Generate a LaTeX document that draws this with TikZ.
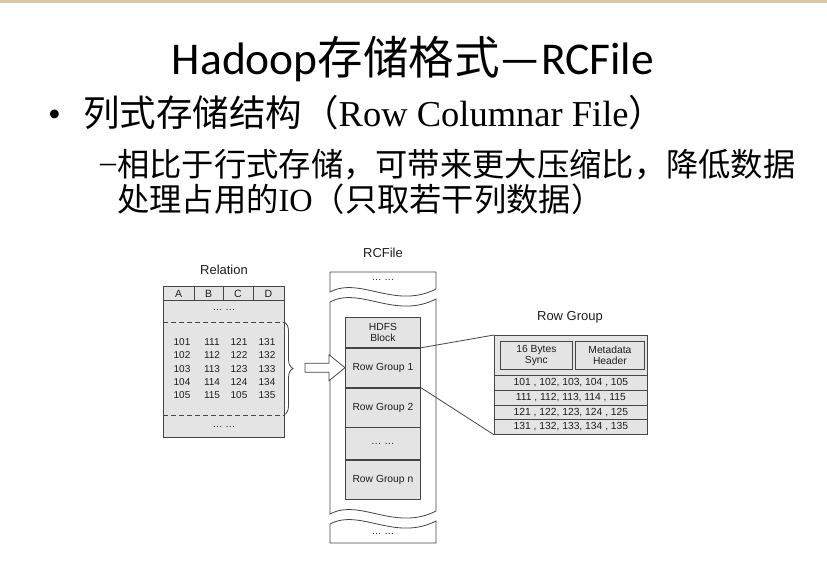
\documentclass[tikz,border=0pt]{standalone}
\usepackage{fontspec}
\setmainfont{Liberation Serif}
\setsansfont{Liberation Sans}
\newfontfamily\cjk{Noto Sans CJK SC}
\newfontfamily\calibri{Carlito}
\usetikzlibrary{positioning,decorations.pathreplacing,calc}
\definecolor{frame}{HTML}{454545}
\definecolor{cellgray}{HTML}{E4E4E4}
\definecolor{strip}{HTML}{D9C9A3}
\definecolor{ink}{HTML}{1E1E1E}

\begin{document}
\begin{tikzpicture}[x=1pt,y=-1pt,font=\sffamily\fontsize{10.3}{11.5}\selectfont,
  cell/.style={draw=frame,fill=cellgray,inner sep=0pt,align=center,line width=0.8pt,text=ink},
  blocktitle/.style={font=\sffamily\fontsize{13}{15}\selectfont,text=ink},
  num/.style={font=\sffamily\fontsize{10}{10}\selectfont,inner sep=0pt,text=ink}]
  \useasboundingbox (0,0) rectangle (827,584);
  \fill[white] (0,0) rectangle (827,584);
  \fill[strip] (0,0) rectangle (827,2.5);
  % heading and bullet lines
  \node[anchor=base,inner sep=0pt,font=\calibri\fontsize{45.5}{54}\selectfont] (title) at (413,74) {Hadoop{\cjk 存储格式}—RCFile};
  \node[anchor=base west,inner sep=0pt,font=\fontsize{36.5}{40}\selectfont] (dot1) at (48,126) {•};
  \node[anchor=base west,inner sep=0pt,font=\fontsize{36.5}{40}\selectfont] (line1) at (83,126) {{\cjk 列式存储结构（}Row Columnar File{\cjk ）}};
  \node[anchor=base west,inner sep=0pt,font=\fontsize{32}{36}\selectfont] (dash1) at (100,172) {–};
  \node[anchor=base west,inner sep=0pt,font=\fontsize{32.3}{36}\selectfont] (line2) at (117,176) {\cjk 相比于行式存储，可带来更大压缩比，降低数据};
  \node[anchor=base west,inner sep=0pt,font=\fontsize{32.3}{36}\selectfont] (line3) at (117,211) {{\cjk 处理占用的}IO{\cjk （只取若干列数据）}};

  % relation table
  \node[blocktitle] (reltitle) at (224,270) {Relation};
  \node[cell,minimum width=121,minimum height=151,anchor=north west] (rel) at (163,286) {};
  \draw[frame,line width=0.8pt] (163,300) -- (284,300);
  \foreach \x in {194,223,253} \draw[frame,line width=0.8pt] (\x,286) -- (\x,300);
  \foreach \c/\x in {A/178.5,B/208.5,C/238,D/268.5}
    \node[num,font=\sffamily\fontsize{10.5}{10}\selectfont] (hdr\c) at (\x,293.5) {\c};
  \node[num] (reldots1) at (224,310) {\dots\ \dots};
  \node[num] (reldots2) at (224,427) {\dots\ \dots};
  \draw[frame,line width=0.8pt,dash pattern=on 5pt off 3pt] (163,322) -- (284,322);
  \draw[frame,line width=0.8pt,dash pattern=on 5pt off 3pt] (163,415) -- (284,415);
  \foreach \a/\b/\c/\d [count=\i] in {101/111/121/131,102/112/122/132,103/113/123/133,104/114/124/134,105/115/105/135} {
    \node[num] (ra\i) at (182,328.7+13.3*\i) {\a};
    \node[num] (rb\i) at (212,328.7+13.3*\i) {\b};
    \node[num] (rc\i) at (239,328.7+13.3*\i) {\c};
    \node[num] (rd\i) at (267,328.7+13.3*\i) {\d};
  }
  \draw[frame,line width=0.8pt,decorate,decoration={brace,amplitude=9pt}] (284,322) -- (284,415);

  % rcfile
  \node[blocktitle] (rctitle) at (383,253) {RCFile};
  \draw[frame,line width=0.8pt,fill=white] (330,292) -- (330,272) -- (436,272) -- (436,289)
    .. controls (395,310) and (360,276) .. (330,292) -- cycle;
  \draw[frame,line width=0.8pt,fill=white] (330,302) .. controls (360,286) and (395,320) .. (436,299)
    -- (436,511) .. controls (395,532) and (360,498) .. (330,514) -- cycle;
  \draw[frame,line width=0.8pt,fill=white] (330,524) .. controls (360,508) and (395,542) .. (436,521)
    -- (436,543) -- (330,543) -- cycle;
  \node[num] (rcdots1) at (383,280) {\dots\ \dots};
  \node[num] (rcdots2) at (383,534) {\dots\ \dots};
  \node[cell,minimum width=75,minimum height=30,anchor=north west] (hdfs) at (345,317) {HDFS\\Block};
  \node[cell,minimum width=75,minimum height=39,below=0pt of hdfs] (rg1) {Row Group 1};
  \node[cell,minimum width=75,minimum height=39,below=0pt of rg1] (rg2) {Row Group 2};
  \node[cell,minimum width=75,minimum height=32,below=0pt of rg2] (rgdots) {\dots\ \dots};
  \node[cell,minimum width=75,minimum height=39,below=0pt of rgdots] (rgn) {Row Group n};

  % hollow arrow into the file
  \draw[frame,line width=0.8pt,fill=white] ($(rg1.west)+(-40,-4.5)$) -- ++(24,0) -- ++(0,-8.5) -- (rg1.west)
    -- ++(-16,13) -- ++(0,-8.5) -- ++(-24,0) -- cycle;

  % row group
  \node[blocktitle] (rgtitle) at (570,317) {Row Group};
  \node[cell,minimum width=153,minimum height=99,anchor=north west] (rgbox) at (494,335) {};
  \node[cell,minimum width=72,minimum height=28,anchor=north west] (sync) at (500,341) {16 Bytes\\Sync};
  \node[cell,minimum width=69,minimum height=28,anchor=north west] (meta) at (575,341) {Metadata\\Header};
  \foreach \t [count=\i from 0] in {{101 , 102, 103, 104 , 105},{111 , 112, 113, 114 , 115},{121 , 122, 123, 124 , 125},{131 , 132, 133, 134 , 135}}
    \node[cell,minimum width=153,minimum height=14.75,anchor=north west] (row\i) at (494,375+14.75*\i) {\t};
  \draw[frame,line width=0.8pt] (rg1.north east) -- (rgbox.north west);
  \draw[frame,line width=0.8pt] (rg1.south east) -- (rgbox.south west);
\end{tikzpicture}
\end{document}
